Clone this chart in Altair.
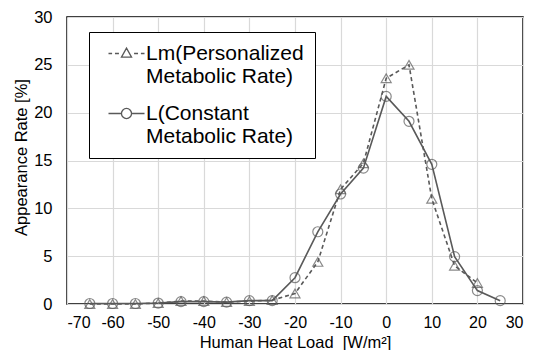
import altair as alt
import pandas as pd

heat_load = [-65, -60, -55, -50, -45, -40, -35, -30, -25, -20, -15, -10, -5, 0, 5, 10, 15, 20, 25]
lm_rate = [0.0, 0.0, 0.0, 0.1, 0.3, 0.3, 0.2, 0.3, 0.4, 1.1, 4.4, 12.0, 14.7, 23.6, 25.0, 11.0, 4.0, 2.2, None]
l_rate = [0.05, 0.05, 0.05, 0.1, 0.25, 0.25, 0.2, 0.35, 0.35, 2.75, 7.55, 11.5, 14.2, 21.7, 19.1, 14.6, 4.95, 1.4, 0.35]

series_lm = "Lm(Personalized|Metabolic Rate)"
series_l = "L(Constant|Metabolic Rate)"

rows = []
for x, a, b in zip(heat_load, lm_rate, l_rate):
    if a is not None:
        rows.append({"x": x, "y": a, "s": series_lm})
    rows.append({"x": x, "y": b, "s": series_l})
df = pd.DataFrame(rows)

GRAY = "#595959"
FONT = "Liberation Sans"

xs = alt.X("x:Q", scale=alt.Scale(domain=[-70, 30], nice=False),
           axis=alt.Axis(values=list(range(-70, 31, 10)), title="Human Heat Load\u00a0 [W/m²]",
                         labelExpr="'' + datum.value",
                         labelFontSize=16, labelPadding=10,
                         titleFontSize=16.5, titleFontWeight="normal",
                         titleBaseline="alphabetic", titleY=43))
ys = alt.Y("y:Q", scale=alt.Scale(domain=[0, 30], nice=False),
           axis=alt.Axis(values=list(range(0, 31, 5)), title="Appearance Rate [%]",
                         labelFontSize=16.5, labelPadding=15,
                         titleFontSize=16.5, titleFontWeight="normal",
                         titleX=-38, titleY=140))

base = alt.Chart(df)

line_lm = base.transform_filter(alt.datum.s == series_lm).mark_line(
    color=GRAY, strokeWidth=1.6, strokeDash=[4, 3]).encode(x=xs, y=ys)
line_l = base.transform_filter(alt.datum.s == series_l).mark_line(
    color=GRAY, strokeWidth=1.6).encode(x=xs, y=ys)
pt_lm = base.transform_filter(alt.datum.s == series_lm).mark_point(
    shape="triangle-up", filled=False, color=GRAY, size=100, strokeWidth=1.2).encode(x=xs, y=ys)
pt_l = base.transform_filter(alt.datum.s == series_l).mark_point(
    shape="circle", filled=False, color=GRAY, size=100, strokeWidth=1.2).encode(x=xs, y=ys)

# legend glyphs: unit = 6px (size 144 -> half-width 6), line spans 36px
path_lm = ("M-3,0H-2.4M-1.92,0H-1.26M1.26,0H1.92M2.4,0H3"
           "M0,-0.9L0.84,0.6L-0.84,0.6Z")
path_l = ("M-3,0H-0.84M0.84,0H3"
          "M0.84,0A0.84,0.84 0 1,1 -0.84,0A0.84,0.84 0 1,1 0.84,0")

legend_layer = base.transform_filter("false").mark_point(
    filled=False, color=GRAY, size=144).encode(
    x=xs, y=ys,
    shape=alt.Shape("s:N", scale=alt.Scale(domain=[series_lm, series_l], range=[path_lm, path_l]),
                    legend=alt.Legend(title=None, orient="none", legendX=22, legendY=15,
                                      labelExpr="split(datum.label, '|')",
                                      labelFontSize=21, labelFont=FONT, labelColor="black",
                                      labelLimit=400, labelOffset=9, symbolStrokeWidth=1.3,
                                      symbolSize=144, symbolOffset=16,
                                      symbolStrokeColor=GRAY, symbolFillColor="transparent",
                                      rowPadding=15, padding=11, strokeColor="black",
                                      fillColor="white", symbolOpacity=1)))

chart = alt.layer(legend_layer, line_lm, line_l, pt_lm, pt_l).properties(
    width=456, height=287,
    autosize=alt.AutoSizeParams(type="none"),
    padding={"left": 59, "top": 9, "right": 3, "bottom": 46},
).configure(font=FONT).configure_view(stroke="black", strokeWidth=1.5).configure_axis(
    grid=True, gridColor="#d9d9d9", gridWidth=1.2, domain=False, ticks=False,
    labelFont=FONT, titleFont=FONT, labelColor="black", titleColor="black",
)

chart.save("out.html", embed_options={"renderer": "svg", "actions": False})
